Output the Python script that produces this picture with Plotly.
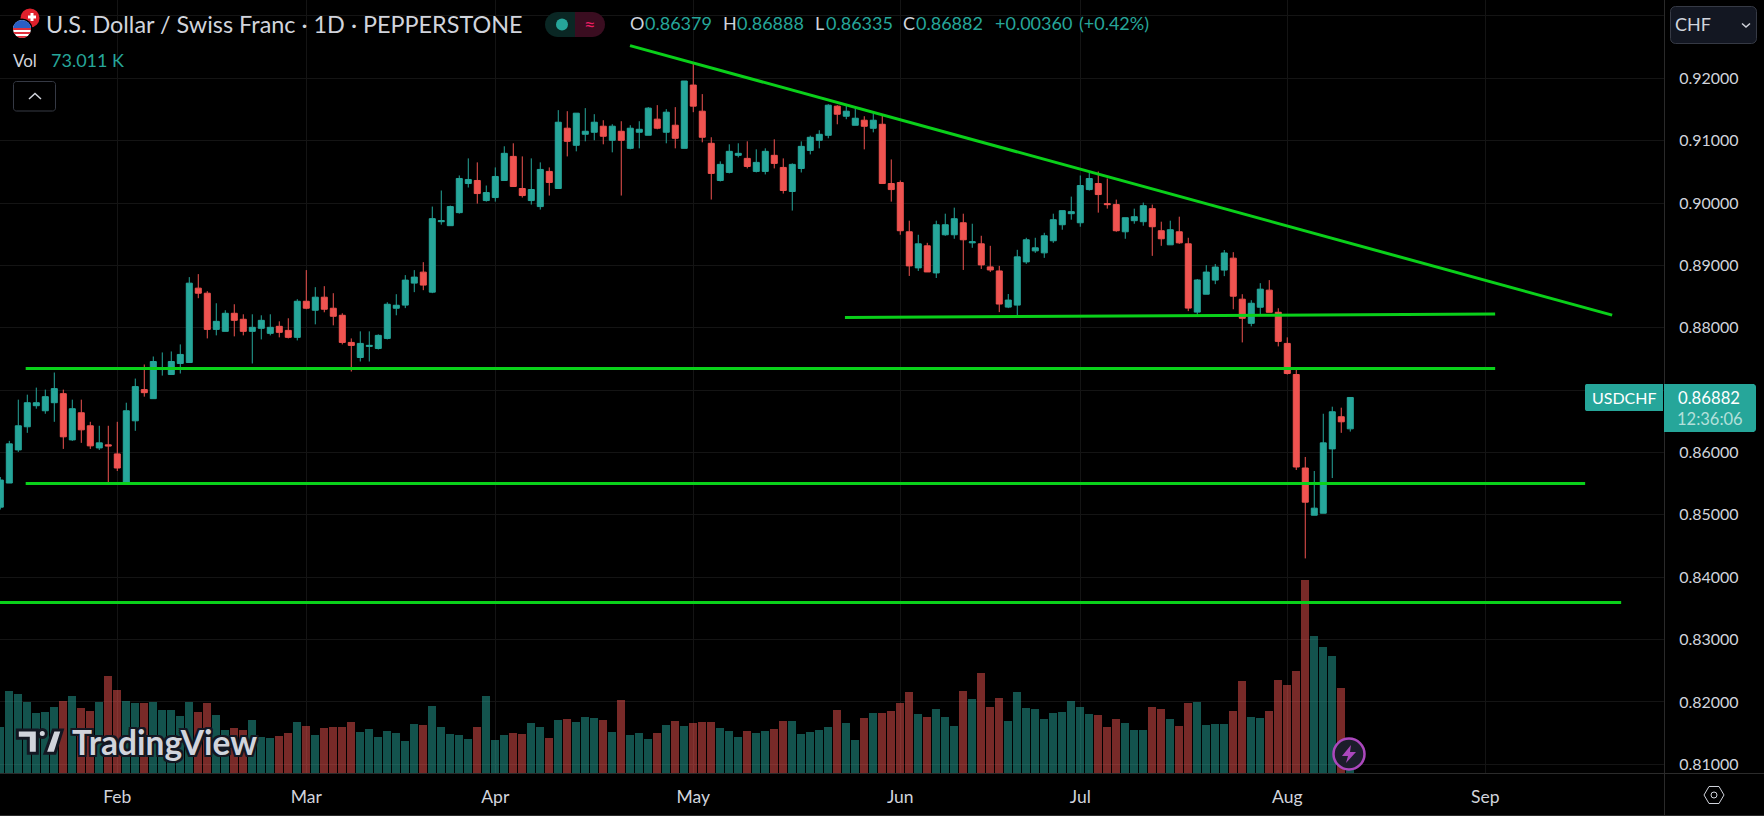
import math
import plotly.graph_objects as go

# ---- data ----
opens = [.85123,.85510,.86041,.86412,.86750,.86669,.86798,.86943,.86202,.86637,.86428,.86073,.86122,.85977,.85526,.86508,.87008,.86863,.87330,.87250,
.87427,.87443,.88635,.88554,.87974,.87942,.88232,.88136,.87942,.87991,.87910,.88023,.87958,.87846,.88425,.88281,.88490,.88313,.88200,.87765,
.87523,.87701,.87668,.87829,.88313,.88363,.88716,.88892,.88571,.89701,.89637,.89846,.90313,.90362,.90040,.90088,.90362,.90748,.90233,.90040,
.89943,.90507,.90233,.91200,.90926,.91103,.91135,.91232,.91006,.91151,.90877,.91135,.91087,.91345,.91135,.91248,.90877,.91892,.91473,.90958,
.90362,.90491,.90765,.90716,.90507,.90507,.90765,.90571,.90185,.90554,.90844,.91006,.91086,.91553,.91392,.91247,.91328,.91199,.91263,.90313,
.90329,.89539,.88960,.89314,.88879,.89491,.89491,.89684,.89362,.89346,.88976,.88911,.88331,.88363,.89056,.89233,.89201,.89395,.89652,.89829,
.89684,.90216,.90313,.89991,.89975,.89539,.89717,.89701,.89910,.89556,.89330,.89539,.89346,.88251,.88538,.88764,.88925,.89116,.88458,.88071,
.88329,.88603,.88248,.87749,.87250,.85751,.84994,.85026,.86057,.86573,.86379]
highs = [.85606,.86186,.86847,.86927,.87040,.87008,.87282,.87008,.86847,.86847,.86492,.86428,.86428,.86492,.86798,.87185,.87411,.87539,.87604,.87620,
.87733,.88812,.88860,.88587,.88393,.88281,.88377,.88216,.88216,.88200,.88216,.88103,.88152,.88458,.88925,.88651,.88667,.88554,.88232,.87829,
.87942,.87942,.87894,.88409,.88538,.88844,.88924,.89052,.89943,.90201,.89959,.90442,.90716,.90652,.90281,.90571,.90910,.90958,.90748,.90716,
.90652,.90571,.91490,.91473,.91441,.91522,.91425,.91328,.91264,.91312,.91248,.91312,.91538,.91570,.91506,.91538,.91957,.92231,.91747,.91055,
.90668,.90942,.90958,.90990,.90861,.90877,.91022,.90716,.90636,.90989,.91081,.91167,.91585,.91569,.91585,.91521,.91392,.91440,.91408,.90699,
.90361,.89717,.89491,.89362,.89717,.89829,.89926,.89829,.89668,.89475,.89314,.88992,.88541,.89250,.89443,.89443,.89523,.89829,.89878,.90103,
.90442,.90490,.90506,.90393,.90055,.89765,.89910,.90007,.89975,.89701,.89717,.89781,.89443,.88782,.89005,.89022,.89247,.89212,.88538,.88442,
.88715,.88764,.88313,.87846,.87330,.85928,.85703,.86621,.86734,.86718,.86888]
lows = [.85085,.85510,.86009,.86315,.86702,.86621,.86492,.86057,.86186,.86154,.86057,.86041,.85493,.85703,.85493,.86347,.86895,.86863,.87233,.87250,
.87266,.87443,.88474,.87829,.87878,.87942,.87862,.87878,.87427,.87813,.87878,.87846,.87829,.87797,.88297,.88055,.88248,.88039,.87733,.87298,
.87459,.87459,.87652,.87813,.88200,.88315,.88571,.88603,.88555,.89653,.89637,.89830,.90249,.89991,.90023,.90023,.90362,.90265,.90088,.89975,
.89895,.90120,.90233,.90748,.90829,.90990,.91006,.90942,.90813,.90120,.90861,.90877,.91087,.91183,.90958,.90877,.90877,.91457,.90974,.90056,
.90346,.90475,.90732,.90555,.90491,.90459,.90555,.90152,.89879,.90490,.90780,.90877,.91038,.91263,.91344,.91247,.90861,.91134,.90313,.90023,
.89491,.88831,.88911,.88895,.88798,.89475,.89427,.88927,.89282,.88943,.88895,.88251,.88315,.88170,.89024,.89201,.89121,.89362,.89572,.89733,
.89620,.90200,.89846,.89910,.89540,.89427,.89668,.89636,.89153,.89314,.89330,.89346,.88267,.88202,.88538,.88699,.88828,.88297,.87765,.88023,
.88200,.88248,.87701,.87250,.85719,.84301,.84994,.85026,.85590,.86315,.86335]
closes = [.85558,.86138,.86428,.86798,.86798,.86895,.87024,.86251,.86702,.86363,.86106,.86154,.86106,.85751,.86669,.87056,.86959,.87459,.87362,.87459,
.87572,.88715,.88554,.87974,.88103,.88232,.88119,.87942,.88007,.88119,.88007,.87926,.87846,.88425,.88313,.88490,.88297,.88184,.87765,.87717,
.87749,.87717,.87878,.88377,.88361,.88764,.88812,.88684,.89750,.89717,.89943,.90394,.90378,.90152,.90168,.90426,.90797,.90265,.90120,.90217,
.90539,.90330,.91296,.90990,.91441,.91151,.91296,.91071,.91232,.91006,.91200,.91183,.91522,.91200,.91457,.91038,.91957,.91554,.91055,.90475,
.90620,.90829,.90797,.90587,.90652,.90829,.90636,.90201,.90620,.90909,.91054,.91102,.91569,.91424,.91473,.91360,.91231,.91328,.90313,.90216,
.89556,.88992,.89346,.88895,.89652,.89652,.89749,.89411,.89378,.89008,.88927,.88380,.88444,.89137,.89411,.89282,.89475,.89733,.89878,.89862,
.90281,.90393,.90136,.89975,.89556,.89765,.89781,.89958,.89620,.89427,.89572,.89362,.88315,.88766,.88893,.88973,.89199,.88506,.88152,.88393,
.88619,.88248,.87781,.87266,.85767,.85203,.85107,.86154,.86653,.86492,.86882]
volumes_k = [1015,1803,1737,1562,1321,1343,1453,1584,1694,1431,1365,1562,2132,1825,1584,1540,1540,1562,1387,1387,
1256,1562,1343,1540,1278,949,993,949,1168,796,774,818,883,1124,1037,840,993,1015,1015,1124,
905,971,796,927,883,708,1080,1059,1475,1015,861,840,752,1015,1694,730,840,883,861,1102,
1015,774,1168,1190,1124,1234,1212,1168,905,1606,840,883,752,883,1059,1146,1037,1102,1124,1124,
993,927,796,927,883,927,971,1146,1146,861,905,949,1015,1387,1102,730,1212,1321,1321,1365,
1540,1781,1299,1234,1409,1234,1037,1803,1628,2197,1453,1650,1146,1781,1431,1409,1190,1321,1343,1584,
1453,1299,1278,1015,1190,1102,949,949,1453,1409,1190,1037,1540,1562,1059,1080,1080,1365,2022,1234,
1212,1365,2044,1935,2241,4234,3008,2767,2570,1869,73.011]
month_positions = [13, 34, 55, 77, 100, 120, 143, 165]
month_labels = ["Feb", "Mar", "Apr", "May", "Jun", "Jul", "Aug", "Sep"]
price_ticks = [.93, .92, .91, .90, .89, .88, .87, .86, .85, .84, .83, .82, .81]
price_labels = ["", "0.92000", "0.91000", "0.90000", "0.89000", "0.88000", "", "0.86000", "0.85000", "0.84000", "0.83000", "0.82000", "0.81000"]
trend_lines = [
    ((69.97, 179.1), (.92525, .88202)),
    ((93.85, 166.1), (.88165, .88222)),
    ((2.82, 166.1), (.87347, .87347)),
    ((2.82, 176.1), (.85503, .85503)),
    ((-1.0, 180.1), (.83594, .83594)),
]

# ---- styling ----
W, H = 1664, 773
UP, DOWN = "#26a69a", "#ef5350"
TXT = "#d1d4dc"
LINE = "#2b2b2b"
GRID = "#141414"
FONT = "Lato, Open Sans, sans-serif"


def X(x):
    return x / W


def Y(y):
    return 1 - y / H


def P(x, y):
    return f"{X(x):.5f},{Y(y):.5f}"


def poly(pts, close=True):
    s = "M" + " L".join(P(a, b) for a, b in pts)
    return s + (" Z" if close else "")


def rrect(x0, y0, x1, y1, r, corners=(1, 1, 1, 1)):
    """rounded rectangle as a polygon (tl, tr, br, bl)"""
    pts = []
    cs = [(x0 + r, y0 + r, 180, corners[0], x0, y0), (x1 - r, y0 + r, 270, corners[1], x1, y0),
          (x1 - r, y1 - r, 0, corners[2], x1, y1), (x0 + r, y1 - r, 90, corners[3], x0, y1)]
    for cx, cy, a0, on, px, py in cs:
        if on:
            for i in range(7):
                t = math.radians(a0 + i * 15)
                pts.append((cx + r * math.cos(t), cy + r * math.sin(t)))
        else:
            pts.append((px, py))
    return poly(pts)


shapes = []


def path(d, fill="rgba(0,0,0,0)", line=None, lw=1):
    shapes.append(dict(type="path", path=d, xref="paper", yref="paper", fillcolor=fill, layer="above",
                       line=dict(color=line or "rgba(0,0,0,0)", width=lw if line else 0)))


def circle(cx, cy, r, fill, line=None, lw=1):
    shapes.append(dict(type="circle", xref="paper", yref="paper", x0=X(cx - r), x1=X(cx + r), y0=Y(cy - r), y1=Y(cy + r),
                       fillcolor=fill, layer="above", line=dict(color=line or "rgba(0,0,0,0)", width=lw if line else 0)))


def band(cx, cy, r, y0, y1, fill):
    """horizontal slice of a disc"""
    pts = []
    for i in range(9):
        y = y0 + (y1 - y0) * i / 8
        pts.append((cx + math.sqrt(max(r * r - (y - cy) ** 2, 0)), y))
    for i in range(9):
        y = y1 - (y1 - y0) * i / 8
        pts.append((cx - math.sqrt(max(r * r - (y - cy) ** 2, 0)), y))
    path(poly(pts), fill=fill)


annots = []


def text(x, y, s, color=TXT, size=16, anchor="left", family=FONT, **kw):
    annots.append(dict(text=s, xref="paper", yref="paper", x=X(x), y=Y(y), xanchor=anchor, yanchor="middle",
                       showarrow=False, font=dict(color=color, size=size, family=family, **kw), borderpad=0))


# pane borders
path(poly([(W + .5, 0), (W + .5, 816)], False), line=LINE)
path(poly([(0, H + .5), (1764, H + .5)], False), line=LINE)
path(poly([(0, 815.5), (1764, 815.5)], False), line=LINE)

# flags
circle(30, 18, 9.5, "#e0202c")
path(poly([(28, 15.5), (36, 15.5), (36, 18.5), (28, 18.5)]), fill="#ffffff")
path(poly([(30.5, 13), (33.5, 13), (33.5, 21), (30.5, 21)]), fill="#ffffff")
circle(22, 29, 10.5, "#000000")
circle(22, 29, 9, "#ffffff")
band(22, 29, 9, 20, 28, "#2b5fc4")
band(22, 29, 9, 28, 30, "#e0303c")
band(22, 29, 9, 32, 34, "#e0303c")
band(22, 29, 9, 36, 38, "#e0303c")

# header
text(44.5, 24.5, "U.S. Dollar / Swiss Franc · 1D · PEPPERSTONE", size=23.4)
path(rrect(545, 12, 575, 37, 12.5, (1, 0, 0, 1)), fill="#0a2724")
path(rrect(575, 12, 605, 37, 12.5, (0, 1, 1, 0)), fill="#3a0d20")
circle(562, 24.5, 6, UP)
text(590, 24, "≈", color="#e91e63", size=20, anchor="center")

for x, s, c in [(629, "O", TXT), (644, "0.86379", UP), (722, "H", TXT), (736, "0.86888", UP), (814, "L", TXT),
                (825, "0.86335", UP), (902, "C", TXT), (915, "0.86882", UP), (994, "+0.00360", UP), (1078, "(+0.42%)", UP)]:
    text(x, 23.5, s, color=c, size=18)

text(12, 60, "Vol", size=17)
text(50, 60, "73.011 K", color=UP, size=18)
path(rrect(13.5, 81.5, 55.5, 111, 3), line="#363a45")
path(poly([(29, 99), (35, 93.5), (41, 99)], False), line=TXT, lw=1.5)

# currency button
path(rrect(1670.5, 6.5, 1756.5, 43.5, 5), fill="#131722", line="#363a45")
text(1674, 24.5, "CHF", size=18)
path(poly([(1742, 23.5), (1746, 27), (1750, 23.5)], False), line=TXT, lw=1.5)

# last price labels
path(rrect(1585, 384, 1663, 411, 2, (1, 0, 0, 1)), fill=UP)
path(rrect(1664, 384, 1756, 432, 3, (0, 1, 1, 0)), fill=UP)
text(1624, 397.5, "USDCHF", color="#ffffff", size=16, anchor="center")
text(1709, 398, "0.86882", color="#ffffff", size=16.7, anchor="center")
text(1710, 419, "12:36:06", color="#b4e0db", size=16.5, anchor="center")

# settings icon
path(poly([(1704, 795), (1709, 786.5), (1719, 786.5), (1724, 795), (1719, 803.5), (1709, 803.5)]), line=TXT, lw=1)
circle(1714, 795, 3, "rgba(0,0,0,0)", line=TXT, lw=1)

# lightning icon
circle(1349, 754, 15.5, "#1c1d2b", line="#ab47bc", lw=2.5)
path(poly([(1351, 745), (1342, 756), (1348, 756), (1346, 763), (1356, 752), (1350, 752)]), fill="#ab47bc")

# watermark
LOGO = "#d1d4dc"
DARK = "#131722"
path(poly([(17.3, 730), (37.3, 730), (37.3, 753.3), (28.3, 753.3), (28.3, 738.3), (17.3, 738.3)]), fill=LOGO, line=DARK, lw=3)
circle(42.3, 733.5, 4, LOGO, line=DARK, lw=3)
path(poly([(53.3, 730), (62.3, 730), (55, 753.3), (45, 753.3)]), fill=LOGO, line=DARK, lw=3)
text(71, 742, "TradingView", color=LOGO, size=33.5, family="Lato, Inter, sans-serif", weight=700,
     shadow="2px 0 0 #131722, -2px 0 0 #131722, 0 2px 0 #131722, 0 -2px 0 #131722, 2px 2px 0 #131722, -2px -2px 0 #131722, 2px -2px 0 #131722, -2px 2px 0 #131722")

idx = list(range(len(closes)))
vol_colors = ["rgba(38,166,154,0.5)" if c >= o else "rgba(239,83,80,0.5)" for o, c in zip(opens, closes)]

fig = go.Figure()
fig.add_trace(go.Bar(x=idx, y=volumes_k, marker=dict(color=vol_colors, line=dict(width=0)), width=0.89, yaxis="y", showlegend=False))
fig.add_trace(go.Candlestick(x=idx, open=opens, high=highs, low=lows, close=closes, yaxis="y2", whiskerwidth=0, showlegend=False,
                             increasing=dict(line=dict(color=UP, width=1), fillcolor=UP),
                             decreasing=dict(line=dict(color=DOWN, width=1), fillcolor=DOWN)))
for xs, ys in trend_lines:
    fig.add_trace(go.Scatter(x=list(xs), y=list(ys), mode="lines", yaxis="y2", showlegend=False, line=dict(color="#0ad01a", width=3)))

fig.update_layout(
    width=1764, height=816, autosize=False, margin=dict(l=0, r=100, t=0, b=43),
    paper_bgcolor="#000000", plot_bgcolor="#000000",
    boxgap=0.333, boxgroupgap=0, bargap=0, barmode="overlay", hovermode=False,
    font=dict(family=FONT, color=TXT, size=15),
    xaxis=dict(range=[-0.033, 184.86], tickmode="array", tickvals=month_positions, ticktext=month_labels,
               showgrid=True, gridcolor=GRID, gridwidth=1, zeroline=False, showline=False, rangeslider=dict(visible=False),
               ticks="outside", ticklen=8, tickcolor="rgba(0,0,0,0)", tickfont=dict(size=17.5, color=TXT)),
    yaxis=dict(range=[0, 16935], visible=False, showgrid=False, zeroline=False),
    yaxis2=dict(range=[.80860, .93256], overlaying="y", side="right", tickmode="array", tickvals=price_ticks, ticktext=price_labels,
                showgrid=True, gridcolor=GRID, gridwidth=1, zeroline=False, showline=False,
                ticks="outside", ticklen=11, tickcolor="rgba(0,0,0,0)", tickfont=dict(size=16, color=TXT)),
    shapes=shapes, annotations=annots,
)

fig.write_html("out.html", config={"displayModeBar": False},
               post_script="document.body.style.margin='0';document.body.style.background='#000';")
